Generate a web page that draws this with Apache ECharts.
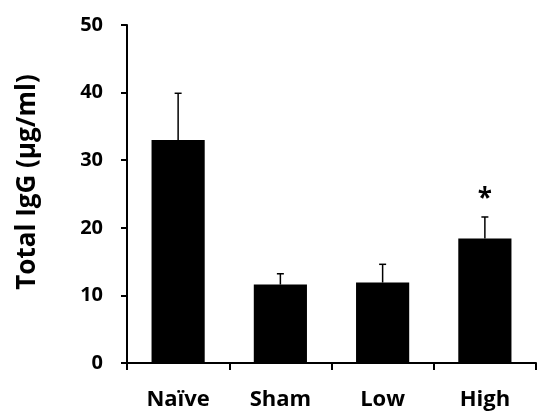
<!DOCTYPE html>
<html><head><meta charset="utf-8">
<script src="https://cdn.jsdelivr.net/npm/echarts@6/dist/echarts.min.js"></script>
<style>html,body{margin:0;padding:0;background:#fff}#c{width:537px;height:411px}</style>
</head><body><div id="c"></div>
<script>
var categories = ['Naïve', 'Sham', 'Low', 'High'];
var means = [33.0, 11.6, 11.9, 18.4];
var errors = [6.9, 1.6, 2.7, 3.2];
var marks = ['', '', '', '*'];
var yTicks = [0, 10, 20, 30, 40, 50];

var FONT = '"Open Sans", sans-serif';
var chart = echarts.init(document.getElementById('c'));
chart.setOption({
  animation: false,
  grid: {left: 127, right: 1, top: 25, bottom: 48, containLabel: false},
  xAxis: {
    type: 'category', data: categories, boundaryGap: true,
    axisLine: {lineStyle: {color: '#000', width: 2}},
    axisTick: {show: true, length: 7, lineStyle: {color: '#000', width: 2}, alignWithLabel: false},
    axisLabel: {color: '#000', fontFamily: FONT, fontWeight: 'bold', fontSize: 22, margin: 26}
  },
  yAxis: {
    type: 'value', min: yTicks[0], max: yTicks[yTicks.length - 1], interval: 10,
    name: 'Total IgG (µg/ml)', nameLocation: 'middle', nameGap: 86, nameRotate: 90,
    nameTextStyle: {color: '#000', fontFamily: FONT, fontWeight: 'bold', fontSize: 26, padding: [0, 0, 0, 24]},
    axisLine: {show: true, lineStyle: {color: '#000', width: 2}},
    axisTick: {show: true, length: 6, lineStyle: {color: '#000', width: 2}},
    splitLine: {show: false},
    axisLabel: {color: '#000', fontFamily: FONT, fontWeight: 'bold', fontSize: 20, margin: 24}
  },
  series: [{
    type: 'bar', data: means, barWidth: '52%',
    itemStyle: {color: '#000'}, z: 2
  }, {
    type: 'custom', z: 3,
    data: means.map(function (m, i) { return [i, m, m + errors[i], marks[i]]; }),
    renderItem: function (params, api) {
      var base = api.coord([api.value(0), api.value(1)]);
      var top = api.coord([api.value(0), api.value(2)]);
      var cap = 3.5;
      var children = [
        {type: 'line', shape: {x1: base[0], y1: base[1], x2: top[0], y2: top[1]}, style: {stroke: '#000', lineWidth: 1.5}},
        {type: 'line', shape: {x1: top[0] - cap, y1: top[1], x2: top[0] + cap, y2: top[1]}, style: {stroke: '#000', lineWidth: 1.5}}
      ];
      var mk = marks[params.dataIndex];
      if (mk) {
        children.push({type: 'text', x: top[0], y: top[1] - 4, style: {text: mk, fill: '#000', font: 'bold 26px ' + FONT, align: 'center', verticalAlign: 'bottom'}});
      }
      return {type: 'group', children: children};
    }
  }]
});
</script></body></html>
